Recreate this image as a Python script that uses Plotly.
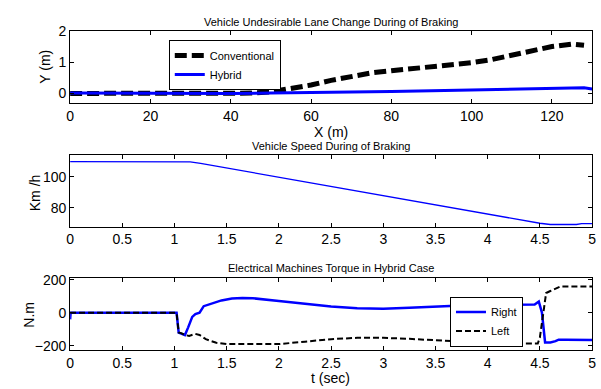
import plotly.graph_objects as go

# ---------------- data ----------------
conv_x = [0, 10, 20, 30, 40, 45, 50, 55, 60, 65, 70, 75, 80, 85, 90, 95, 100, 105, 110, 115, 120, 125, 128]
conv_y = [0, 0, 0, 0, 0, 0.01, 0.05, 0.15, 0.27, 0.42, 0.56, 0.66, 0.73, 0.79, 0.84, 0.90, 0.99, 1.09, 1.24, 1.39, 1.51, 1.59, 1.55]

hyb_x = [0, 20, 40, 50, 60, 70, 80, 90, 100, 110, 120, 125, 128, 130]
hyb_y = [0.01, 0.0, 0.0, 0.01, 0.02, 0.04, 0.06, 0.09, 0.12, 0.15, 0.18, 0.19, 0.18, 0.14]

speed_t = [0, 0.5, 1.0, 1.15, 1.25, 1.5, 2, 2.5, 3, 3.5, 4, 4.4, 4.5, 4.6, 4.85, 4.9, 5]
speed_v = [110, 110, 110, 109.8, 108.8, 105.8, 99.8, 93.8, 87.8, 81.8, 75.8, 71, 70, 69.2, 69.2, 69.8, 69.8]

right_t = [0, 0.005, 1.02, 1.04, 1.07, 1.10, 1.13, 1.17, 1.2, 1.24, 1.28, 1.32, 1.36, 1.45, 1.55, 1.65,
           1.75, 1.9, 2.0, 2.25, 2.5, 2.75, 3.0, 3.25, 3.5, 3.75, 4.0, 4.25, 4.45, 4.49, 4.52, 4.55,
           4.6, 4.65, 4.68, 4.75, 5.0]
right_tq = [-40, 0, 0, -120, -128, -135, -90, -25, -8, 0, 40, 48, 55, 75, 87, 90,
            88, 80, 72, 55, 38, 27, 25, 30, 38, 44, 48, 50, 50, 68, 0, -180,
            -180, -172, -163, -163, -165]

left_t = [0, 1.02, 1.04, 1.07, 1.10, 1.14, 1.2, 1.24, 1.3, 1.4, 1.5, 1.75, 2.0, 2.25, 2.5, 2.75,
          3.0, 3.25, 3.5, 3.75, 4.0, 4.25, 4.48, 4.5, 4.53, 4.56, 4.6, 4.65, 4.7, 5.0]
left_tq = [0, 0, -120, -125, -135, -140, -128, -135, -160, -182, -190, -192, -190, -175, -160, -152,
           -152, -158, -168, -178, -184, -187, -187, -150, 0, 120, 132, 145, 160, 160]

x1_ticks = [0, 20, 40, 60, 80, 100, 120]
y1_ticks = [0, 1, 2]
t_ticks = [0, 0.5, 1, 1.5, 2, 2.5, 3, 3.5, 4, 4.5, 5]
t_labels = ["0", "0.5", "1", "1.5", "2", "2.5", "3", "3.5", "4", "4.5", "5"]
y2_ticks = [80, 100]
y3_ticks = [-200, 0, 200]

W, H = 601, 389
FONT = "Liberation Sans, Arial, sans-serif"


def px(x):
    return x / W


def py(y):
    return 1 - y / H


fig = go.Figure()

fig.add_trace(go.Scatter(x=conv_x, y=conv_y, mode="lines", name="Conventional",
                         line=dict(color="black", width=5, dash="12px,5px"),
                         xaxis="x", yaxis="y", legend="legend"))
fig.add_trace(go.Scatter(x=hyb_x, y=hyb_y, mode="lines", name="Hybrid",
                         line=dict(color="blue", width=3),
                         xaxis="x", yaxis="y", legend="legend"))
fig.add_trace(go.Scatter(x=speed_t, y=speed_v, mode="lines", name="Speed",
                         line=dict(color="blue", width=1.3), showlegend=False,
                         xaxis="x2", yaxis="y2"))
fig.add_trace(go.Scatter(x=right_t, y=right_tq, mode="lines", name="Right",
                         line=dict(color="blue", width=2.5),
                         xaxis="x3", yaxis="y3", legend="legend2"))
fig.add_trace(go.Scatter(x=left_t, y=left_tq, mode="lines", name="Left",
                         line=dict(color="black", width=2, dash="6px,3px"),
                         xaxis="x3", yaxis="y3", legend="legend2"))

xdom = [px(67), px(596)]
axis_common = dict(showline=True, linecolor="black", linewidth=1, mirror="ticks",
                   ticks="inside", ticklen=4, tickcolor="black", showgrid=False,
                   zeroline=False, ticklabeloverflow="allow",
                   tickfont=dict(family=FONT, size=14, color="black"))

fig.update_layout(
    width=W, height=H,
    margin=dict(l=0, r=0, t=0, b=0),
    paper_bgcolor="white", plot_bgcolor="white",
    font=dict(family=FONT, color="black"),
    xaxis=dict(domain=xdom, range=[0, 130], tickvals=x1_ticks, anchor="y", **axis_common),
    yaxis=dict(domain=[py(97.5), py(24)], range=[-0.3, 2.0], tickvals=y1_ticks, anchor="x", **axis_common),
    xaxis2=dict(domain=xdom, range=[0, 5], tickvals=t_ticks, ticktext=t_labels, anchor="y2", **axis_common),
    yaxis2=dict(domain=[py(225), py(151.5)], range=[67.8, 114.1], tickvals=y2_ticks, anchor="x2", **axis_common),
    xaxis3=dict(domain=xdom, range=[0, 5], tickvals=t_ticks, ticktext=t_labels, anchor="y3", **axis_common),
    yaxis3=dict(domain=[py(352), py(278)], range=[-226, 210], tickvals=y3_ticks, anchor="x3", **axis_common),
    legend=dict(x=px(167), y=py(33), xanchor="left", yanchor="top",
                bgcolor="white", bordercolor="black", borderwidth=1,
                font=dict(family=FONT, size=11, color="black"),
                tracegroupgap=0, itemwidth=30),
    legend2=dict(x=px(452), y=py(297), xanchor="left", yanchor="top",
                 bgcolor="white", bordercolor="black", borderwidth=1,
                 font=dict(family=FONT, size=11, color="black"),
                 tracegroupgap=0, itemwidth=30),
)

annots = [
    ("Vehicle Undesirable Lane Change During of Braking", 331, 14, 11, 0),
    ("Vehicle Speed During of Braking", 331, 142, 11, 0),
    ("Electrical Machines Torque in Hybrid Case", 331, 268, 11, 0),
    ("X (m)", 331, 128, 14, 0),
    ("t (sec)", 331, 381, 14, 0),
    ("Y (m)", 42, 60, 14, -90),
    ("Km /h", 31, 190, 14, -90),
    ("N.m", 25, 316, 14, -90),
]
for text, x, y, size, ang in annots:
    fig.add_annotation(text=text, xref="paper", yref="paper", x=px(x), y=py(y),
                       xanchor="center", yanchor="middle", showarrow=False,
                       textangle=ang, font=dict(family=FONT, size=size, color="black"))

fig.write_html("out.html",
               config={"displayModeBar": False},
               post_script="document.body.style.margin='0';document.body.style.overflow='hidden';")
